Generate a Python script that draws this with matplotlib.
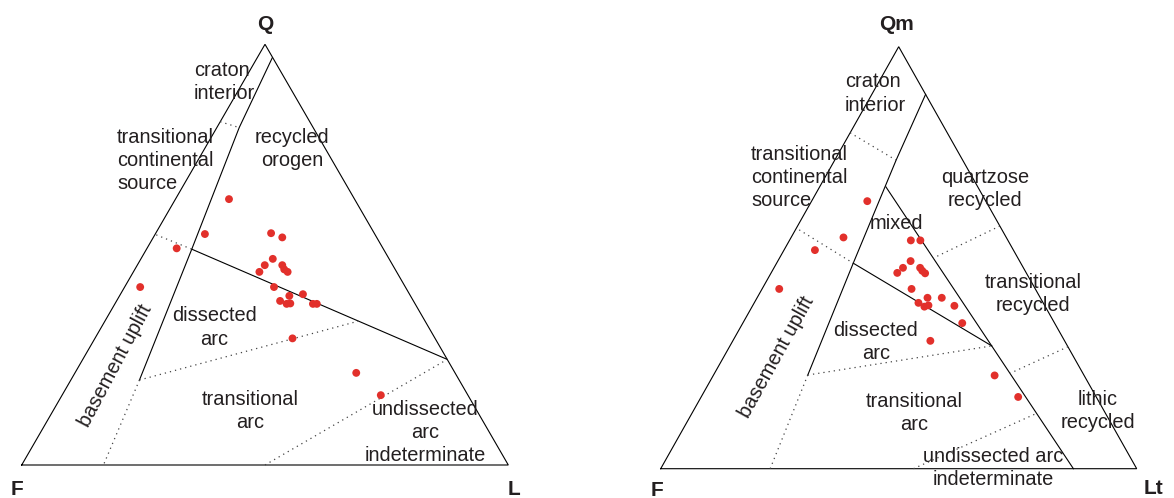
import numpy as np
import matplotlib
matplotlib.use("Agg")
import matplotlib.pyplot as plt

plt.rcParams["font.family"] = ["Liberation Sans", "DejaVu Sans"]

# ── Modal compositions (%) ──────────────────────────────────────────────────
qfl_q = [63.2, 54.9, 51.5, 42.3, 55.1, 54.1, 49.0, 47.5, 45.9, 47.5, 46.5, 45.9,
         42.3, 40.6, 40.2, 39.0, 38.3, 38.4, 38.3, 38.3, 30.1, 21.9, 16.6]
qfl_f = [25.8, 34.9, 42.4, 54.5, 21.2, 19.4, 23.9, 26.3, 28.2, 22.7, 22.8, 22.4,
         27.0, 21.9, 24.9, 27.4, 26.4, 25.6, 21.0, 20.2, 29.3, 20.3, 17.9]
qfl_l = [11.0, 10.2, 6.1, 3.2, 23.7, 26.5, 27.1, 26.2, 25.9, 29.8, 30.7, 31.7,
         30.7, 37.5, 34.9, 33.6, 35.3, 36.0, 40.7, 41.5, 40.6, 57.8, 65.5]

qmflt_qm = [63.4, 54.8, 51.8, 42.6, 54.1, 54.1, 49.2, 47.6, 46.4, 47.6, 46.9, 46.3,
            42.6, 40.5, 40.5, 38.6, 39.3, 38.4, 38.7, 34.5, 30.3, 22.1, 17.0]
qmflt_f = [24.9, 34.2, 41.7, 53.8, 20.4, 18.4, 22.9, 25.3, 27.1, 21.7, 21.6, 21.3,
           26.0, 23.7, 20.7, 19.0, 26.2, 25.4, 24.4, 19.4, 28.2, 18.8, 16.4]
qmflt_lt = [11.7, 11.0, 6.5, 3.6, 25.5, 27.5, 27.9, 27.1, 26.5, 30.7, 31.5, 32.4,
            31.4, 35.8, 38.8, 42.4, 34.5, 36.2, 36.9, 46.1, 41.5, 59.1, 66.6]

# ── Provenance field boundaries, as (top apex %, right apex %) pairs ────────
qfl_solid = [
    [(96.8, 3.1), (80.2, 4.6), (51.3, 9.3), (20.2, 14.1)],
    [(51.3, 9.3), (25.1, 74.9)],
]
qfl_dotted = [
    [(20.2, 14.1), (0.0, 16.8)],
    [(81.6, 0.0), (80.2, 4.6)],
    [(54.7, 0.3), (51.3, 9.3)],
    [(20.2, 14.1), (34.2, 52.1)],
    [(0.0, 50.0), (25.1, 74.9)],
]

qmflt_solid = [
    [(88.7, 11.3), (73.1, 12.9), (48.7, 16.1), (22.2, 19.8)],
    [(66.8, 13.9), (0.0, 86.7)],
    [(48.7, 16.1), (29.1, 55.0)],
]
qmflt_dotted = [
    [(22.2, 19.8), (0.0, 23.0)],
    [(79.6, 0.0), (73.1, 12.9)],
    [(56.6, 0.8), (48.7, 16.1)],
    [(57.5, 42.5), (49.9, 32.3)],
    [(28.9, 71.1), (22.6, 62.1)],
    [(22.2, 19.8), (29.1, 55.0)],
    [(0.0, 53.1), (13.1, 72.4)],
]

H = np.sqrt(3) / 2
RED = "#e2302b"
FS = 14.4
APEX_FS = 15


def to_xy(top, right):
    top = np.asarray(top, dtype=float) / 100.0
    right = np.asarray(right, dtype=float) / 100.0
    return right + top / 2.0, top * H


def draw_frame(ax, solid, dotted):
    ax.set_xlim(0, 1)
    ax.set_ylim(0, H)
    ax.axis("off")
    ax.plot([0, 1, 0.5, 0], [0, 0, H, 0], color="black", lw=0.8,
            clip_on=False, solid_joinstyle="miter")
    for seg in solid:
        t, r = zip(*seg)
        x, y = to_xy(t, r)
        ax.plot(x, y, color="black", lw=0.8, clip_on=False)
    for seg in dotted:
        t, r = zip(*seg)
        x, y = to_xy(t, r)
        ax.plot(x, y, color="#444444", lw=0.9, linestyle=(0, (1, 3.2)),
                clip_on=False)


def draw_points(ax, top, left, right):
    tot = np.asarray(top) + np.asarray(left) + np.asarray(right)
    x, y = to_xy(np.asarray(top) / tot * 100, np.asarray(right) / tot * 100)
    ax.scatter(x, y, s=32, color=RED, edgecolors="none", zorder=5,
               clip_on=False)


def label(ax, x, y, s, ha="center", rot=0):
    ax.text(x, y, s, ha=ha, va="center", fontsize=FS, color="#231f20",
            linespacing=1.27, multialignment=ha,
            rotation=rot, rotation_mode="anchor")


def apex(ax, x, y, s):
    ax.text(x, y, s, ha="center", va="center", fontsize=APEX_FS,
            fontweight="bold", color="#231f20")


fig = plt.figure(figsize=(11.74, 4.98), dpi=100)
ax1 = fig.add_axes([21.7 / 1174, 33.0 / 498, 486.6 / 1174, 420.7 / 498])
ax2 = fig.add_axes([660.7 / 1174, 29.3 / 498, 476.0 / 1174, 422.0 / 498])

# ── QFL ─────────────────────────────────────────────────────────────────────
draw_frame(ax1, qfl_solid, qfl_dotted)
draw_points(ax1, qfl_q, qfl_f, qfl_l)

apex(ax1, 0.5, 0.906, "Q")
apex(ax1, -0.01, -0.051, "F")
apex(ax1, 1.012, -0.051, "L")

label(ax1, 0.354, 0.788, "craton\ninterior", ha="left")
label(ax1, 0.196, 0.626, "transitional\ncontinental\nsource", ha="left")
label(ax1, 0.556, 0.651, "recycled\norogen")
label(ax1, 0.396, 0.283, "dissected\narc")
label(ax1, 0.469, 0.111, "transitional\narc")
label(ax1, 0.830, 0.067, "undissected\narc\nindeterminate")
label(ax1, 0.192, 0.205, "basement uplift", rot=62)

# ── QmFLt ───────────────────────────────────────────────────────────────────
draw_frame(ax2, qmflt_solid, qmflt_dotted)
draw_points(ax2, qmflt_qm, qmflt_f, qmflt_lt)

apex(ax2, 0.496, 0.911, "Qm")
apex(ax2, -0.008, -0.045, "F")
apex(ax2, 1.035, -0.041, "Lt")

label(ax2, 0.387, 0.770, "craton\ninterior", ha="left")
label(ax2, 0.190, 0.597, "transitional\ncontinental\nsource", ha="left")
label(ax2, 0.682, 0.574, "quartzose\nrecycled")
label(ax2, 0.496, 0.504, "mixed")
label(ax2, 0.783, 0.359, "transitional\nrecycled")
label(ax2, 0.452, 0.260, "dissected\narc")
label(ax2, 0.532, 0.115, "transitional\narc")
label(ax2, 0.918, 0.118, "lithic\nrecycled")
label(ax2, 0.698, 0.001, "undissected arc\nindeterminate")
label(ax2, 0.243, 0.230, "basement uplift", rot=61)

fig.savefig("out.png", dpi=100)
